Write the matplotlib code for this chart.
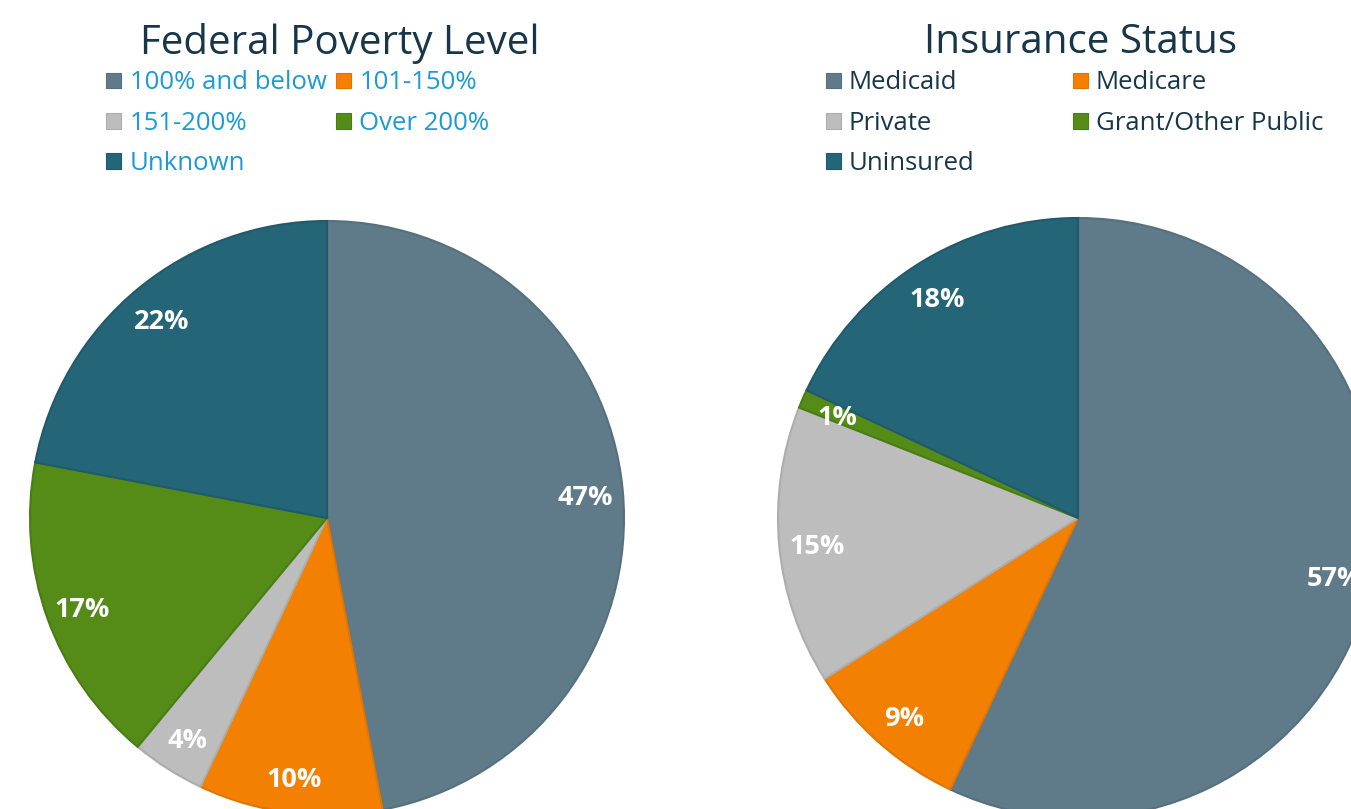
import matplotlib
matplotlib.use("Agg")
import matplotlib.pyplot as plt
from matplotlib.patches import Rectangle
from matplotlib.transforms import ScaledTranslation

plt.rcParams['font.family'] = ['Open Sans', 'DejaVu Sans']

# Data
fpl_title = "Federal Poverty Level"
fpl_labels = ["100% and below", "101-150%", "151-200%", "Over 200%", "Unknown"]
fpl_values = [47, 10, 4, 17, 22]

ins_title = "Insurance Status"
ins_labels = ["Medicaid", "Medicare", "Private", "Grant/Other Public", "Uninsured"]
ins_values = [57, 9, 15, 1, 18]

colors = ["#5f7a89", "#f38000", "#bdbdbd", "#548c17", "#256578"]
edge_colors = ["#55707e", "#e07600", "#adadad", "#4a7d14", "#205a6b"]

W, H = 1351, 809
fig = plt.figure(figsize=(W / 100, H / 100), dpi=100)


def px_axes(cx, cy, r):
    return fig.add_axes([(cx - r) / W, (H - cy - r) / H, 2 * r / W, 2 * r / H])


def draw_pie(ax, values):
    wedges, texts, autotexts = ax.pie(
        values, colors=colors, startangle=90, counterclock=False,
        autopct=lambda p: f"{p:.0f}%", pctdistance=0.875, radius=1.0,
        wedgeprops=dict(linewidth=1.5),
        textprops=dict(color="white", fontsize=19.5, fontweight="bold"))
    for w, ec in zip(wedges, edge_colors):
        w.set_edgecolor(ec)
    shift = ScaledTranslation(0, -4 / 100, fig.dpi_scale_trans)
    for t in autotexts:
        t.set_transform(ax.transData + shift)
    ax.set_xlim(-1, 1)
    ax.set_ylim(-1, 1)
    ax.set_aspect("equal")
    ax.axis("off")


ax1 = px_axes(327, 518, 297)
draw_pie(ax1, fpl_values)
ax2 = px_axes(1078, 518, 300)
draw_pie(ax2, ins_values)

title_color = "#17364a"
fig.text(340 / W, 1 - 43 / H, fpl_title, ha="center", va="center",
         fontsize=29, color=title_color)
fig.text(1081 / W, 1 - 43 / H, ins_title, ha="center", va="center",
         fontsize=29, color=title_color)


def draw_legend(labels, col_x, row_y, text_color):
    order = [(0, 0), (0, 1), (1, 0), (1, 1), (2, 0)]
    s = 15
    for i, (lab, (r, c)) in enumerate(zip(labels, order)):
        mx = col_x[c]
        my = row_y[r]
        fig.patches.append(Rectangle(((mx - s / 2) / W, 1 - (my + s / 2) / H), s / W, s / H,
                                     transform=fig.transFigure, facecolor=colors[i],
                                     edgecolor=edge_colors[i], linewidth=0.8))
        fig.text((mx + 16) / W, 1 - (my + 2) / H, lab, ha="left", va="center",
                 fontsize=18.5, color=text_color)


draw_legend(fpl_labels, [113.5, 343.5], [80.5, 121, 161], "#1a9ad6")
draw_legend(ins_labels, [833, 1080], [80.5, 121, 161], "#17364a")

fig.savefig("out.png", dpi=100)
